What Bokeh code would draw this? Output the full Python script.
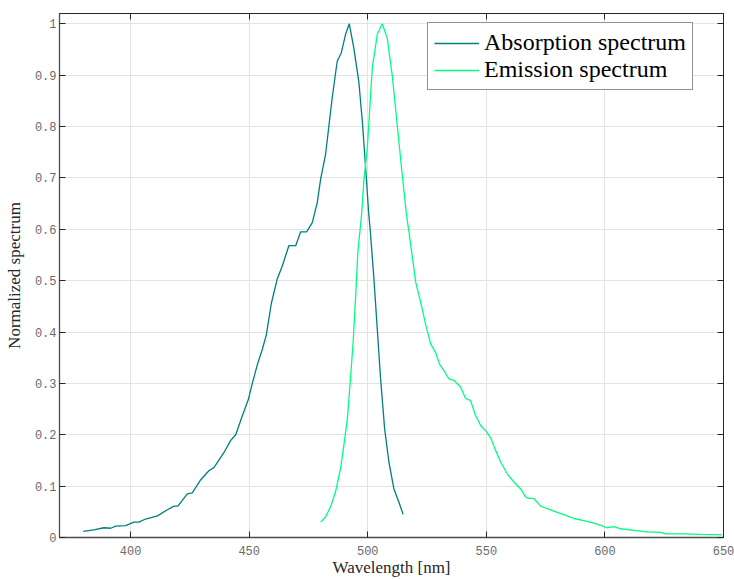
from bokeh.plotting import figure
from bokeh.models import LinearAxis
from bokeh.embed import file_html
from bokeh.resources import INLINE

# ---- data ----
abs_wl = [380.0, 384.5, 388.7, 391.6, 393.7, 397.9, 401.4, 403.5, 406.3, 411.3,
          415.5, 418.3, 419.9, 423.9, 426.0, 429.5, 433.0, 435.1, 439.3, 442.2,
          444.3, 447.1, 449.6, 451.3, 453.4, 455.5, 457.2, 459.3, 461.8, 464.0,
          466.7, 469.6, 471.7, 474.2, 476.6, 478.7, 480.1, 482.2, 485.0, 487.1,
          488.8, 490.6, 492.2, 494.1, 496.2, 497.7, 499.0, 500.4, 501.0, 502.6,
          504.0, 505.4, 507.1, 508.9, 511.0, 513.1, 514.9]
abs_val = [0.012, 0.015, 0.019, 0.018, 0.022, 0.023, 0.030, 0.030, 0.036, 0.042,
           0.054, 0.061, 0.061, 0.085, 0.087, 0.112, 0.130, 0.136, 0.165, 0.189,
           0.200, 0.237, 0.268, 0.300, 0.336, 0.366, 0.394, 0.455, 0.503, 0.529,
           0.568, 0.568, 0.595, 0.595, 0.613, 0.652, 0.697, 0.746, 0.856, 0.927,
           0.943, 0.979, 1.000, 0.953, 0.888, 0.810, 0.726, 0.630, 0.600, 0.503,
           0.406, 0.309, 0.212, 0.147, 0.095, 0.069, 0.045]

em_wl = [480.1, 482.2, 484.3, 486.4, 488.5, 489.9, 491.4, 492.7, 493.9, 494.9,
         495.8, 497.4, 498.4, 499.8, 501.9, 504.0, 506.1, 508.2, 510.3, 512.4,
         514.5, 516.3, 517.3, 520.2, 522.3, 524.4, 526.5, 528.6, 530.2, 532.1,
         534.2, 536.3, 539.1, 541.2, 543.3, 545.4, 547.6, 550.0, 551.8, 553.6,
         556.0, 558.8, 561.6, 564.4, 566.5, 567.9, 570.0, 572.9, 575.7, 579.9,
         584.1, 586.9, 591.1, 595.3, 598.1, 600.8, 603.8, 606.6, 612.2, 617.8,
         623.5, 625.6, 633.3, 640.4, 649.4]
em_val = [0.030, 0.040, 0.060, 0.089, 0.134, 0.179, 0.231, 0.309, 0.386, 0.471,
          0.555, 0.630, 0.697, 0.758, 0.914, 0.979, 1.000, 0.972, 0.900, 0.804,
          0.707, 0.629, 0.597, 0.497, 0.458, 0.415, 0.377, 0.360, 0.338, 0.325,
          0.309, 0.306, 0.293, 0.271, 0.267, 0.238, 0.218, 0.206, 0.194, 0.173,
          0.147, 0.124, 0.108, 0.095, 0.079, 0.076, 0.076, 0.061, 0.056, 0.049,
          0.042, 0.037, 0.033, 0.028, 0.024, 0.019, 0.021, 0.017, 0.014, 0.011,
          0.010, 0.007, 0.007, 0.006, 0.005]

x_ticks = [400, 450, 500, 550, 600, 650]
y_ticks = [0, 0.1, 0.2, 0.3, 0.4, 0.5, 0.6, 0.7, 0.8, 0.9, 1]
y_labels = ["0", "0.1", "0.2", "0.3", "0.4", "0.5", "0.6", "0.7", "0.8", "0.9", "1"]

series_names = ["Absorption spectrum", "Emission spectrum"]
series_colors = ["#007f7f", "#00ff80"]

x_label = "Wavelength [nm]"
y_label = "Normalized spectrum"

# ---- figure ----
p = figure(width=734, height=579, x_range=(370, 650), y_range=(0, 1.02),
           output_backend="svg", toolbar_location=None,
           min_border_left=59, min_border_right=11,
           min_border_top=13, min_border_bottom=41)

p.background_fill_color = "white"
p.border_fill_color = "white"
p.outline_line_color = "#262626"
p.outline_line_width = 1

p.line(abs_wl, abs_val, line_color=series_colors[0], line_width=1.3,
       legend_label=series_names[0])
p.line(em_wl, em_val, line_color=series_colors[1], line_width=1.3,
       legend_label=series_names[1])

tick_font = "Liberation Mono"
tick_color = "#6a6a6a"
label_font = "Liberation Serif"

for ax in (p.xaxis[0], p.yaxis[0]):
    ax.major_tick_in = 6
    ax.major_tick_out = 0
    ax.minor_tick_in = 0
    ax.minor_tick_out = 0
    ax.axis_line_color = "#4d4d4d"
    ax.axis_line_width = 1.3
    ax.major_tick_line_color = "#262626"
    ax.major_label_text_font = tick_font
    ax.major_label_text_font_size = "12px"
    ax.major_label_text_color = tick_color
    ax.axis_label_text_font = label_font
    ax.axis_label_text_font_style = "normal"
    ax.axis_label_text_font_size = "17px"
    ax.axis_label_text_color = "#262626"

p.xaxis.ticker = x_ticks
p.yaxis.ticker = y_ticks
p.yaxis.major_label_overrides = {t: l for t, l in zip(y_ticks, y_labels)}
p.xaxis.axis_label = x_label
p.yaxis.axis_label = y_label
p.xaxis.major_label_standoff = 8
p.xaxis.axis_label_standoff = 0
p.yaxis.major_label_standoff = 3
p.yaxis.axis_label_standoff = 8

# top and right axes: ticks only, labels not drawn
top = LinearAxis(ticker=x_ticks, major_tick_in=6, major_tick_out=0,
                 minor_tick_in=0, minor_tick_out=0,
                 major_label_text_color=None, major_label_text_alpha=0,
                 major_label_text_font_size="1px", major_label_standoff=0,
                 axis_line_color="#262626", major_tick_line_color="#262626")
right = LinearAxis(ticker=y_ticks, major_tick_in=6, major_tick_out=0,
                   minor_tick_in=0, minor_tick_out=0,
                   major_label_text_color=None, major_label_text_alpha=0,
                   major_label_text_font_size="1px", major_label_standoff=0,
                   axis_line_color="#262626", major_tick_line_color="#262626")
p.add_layout(top, "above")
p.add_layout(right, "right")

p.xgrid.ticker = x_ticks
p.ygrid.ticker = y_ticks
p.xgrid.grid_line_color = "#e3e3e3"
p.ygrid.grid_line_color = "#e3e3e3"
p.xgrid.grid_line_width = 1
p.ygrid.grid_line_width = 1

lg = p.legend[0]
lg.location = (368, 447)
lg.label_text_font = label_font
lg.label_text_font_size = "24px"
lg.label_text_color = "#000000"
lg.glyph_width = 45
lg.glyph_height = 20
lg.label_height = 20
lg.label_standoff = 5
lg.padding = 6
lg.spacing = 0
lg.margin = 0
lg.border_line_color = "#262626"
lg.border_line_width = 1
lg.background_fill_color = "white"
lg.background_fill_alpha = 1

open("out.html", "w").write(file_html(p, INLINE))
